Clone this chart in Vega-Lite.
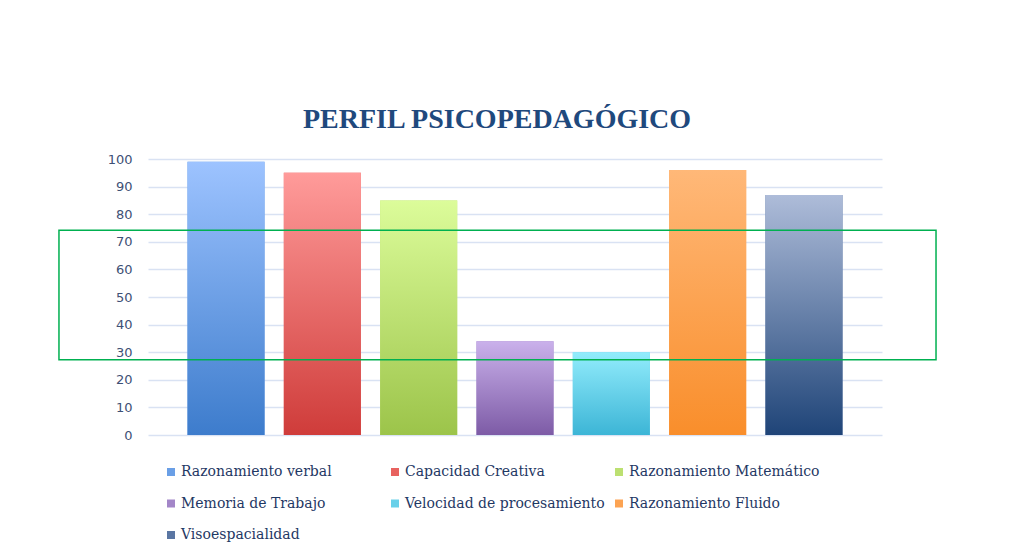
{
  "$schema": "https://vega.github.io/schema/vega-lite/v6.json",
  "width": 734,
  "height": 276,
  "autosize": {"type": "none"},
  "padding": {"left": 148, "top": 159, "right": 128, "bottom": 118},
  "background": "white",
  "config": {"view": {"stroke": null}},
  "title": {
    "text": "PERFIL PSICOPEDAGÓGICO",
    "font": "Liberation Serif",
    "fontSize": 28,
    "fontWeight": "bold",
    "color": "#1F497D",
    "offset": 19,
    "dx": -18,
    "anchor": "middle"
  },
  "datasets": {
    "scores": [
      {"area": "Razonamiento verbal", "valor": 99},
      {"area": "Capacidad Creativa", "valor": 95},
      {"area": "Razonamiento Matemático", "valor": 85},
      {"area": "Memoria de Trabajo", "valor": 34},
      {"area": "Velocidad de procesamiento", "valor": 30},
      {"area": "Razonamiento Fluido", "valor": 96},
      {"area": "Visoespacialidad", "valor": 87}
    ],
    "highlight": [
      {"x0": -0.1213, "x1": 1.0736, "y0": 74.2, "y1": 27.3}
    ]
  },
  "layer": [
    {
      "data": {"name": "scores"},
      "encoding": {
        "x": {
          "field": "area",
          "type": "nominal",
          "sort": null,
          "scale": {
            "domain": ["Razonamiento verbal", "Capacidad Creativa", "Razonamiento Matemático", "Memoria de Trabajo", "Velocidad de procesamiento", "Razonamiento Fluido", "Visoespacialidad"],
            "paddingInner": 0.2,
            "paddingOuter": 0.41
          },
          "axis": null
        },
        "y": {
          "field": "valor",
          "type": "quantitative",
          "scale": {"domain": [0, 100]},
          "axis": {
            "title": null,
            "values": [0, 10, 20, 30, 40, 50, 60, 70, 80, 90, 100],
            "labelOverlap": false,
            "grid": true,
            "gridColor": "#D9E2F3",
            "gridWidth": 1.5,
            "domain": false,
            "ticks": false,
            "labelPadding": 16,
            "labelFont": "DejaVu Sans",
            "labelFontSize": 13,
            "labelColor": "#3E5075"
          }
        }
      },
      "layer": [
        {
          "mark": {"type": "bar"},
          "encoding": {
            "color": {
              "field": "area",
              "type": "nominal",
              "sort": null,
              "scale": {
                "domain": ["Razonamiento verbal", "Capacidad Creativa", "Razonamiento Matemático", "Memoria de Trabajo", "Velocidad de procesamiento", "Razonamiento Fluido", "Visoespacialidad"],
                "range": ["#6A9FE6", "#E8625F", "#BCE071", "#A386C8", "#68D0E9", "#FCA352", "#5A76A3"]
              },
              "legend": {
                "title": null,
                "orient": "none",
                "direction": "horizontal",
                "legendX": 16,
                "legendY": 306,
                "columns": 3,
                "gridAlign": "all",
                "columnPadding": 7,
                "rowPadding": 17.5,
                "symbolType": "square",
                "symbolSize": 64,
                "symbolStrokeWidth": 0,
                "labelFont": "DejaVu Serif",
                "labelFontSize": 14,
                "labelColor": "#1F3864",
                "labelOffset": 3,
                "labelLimit": 400
              }
            }
          }
        },
        {
          "transform": [{"filter": "datum.area === 'Razonamiento verbal'"}],
          "mark": {"type": "bar", "fill": {"gradient": "linear", "x1": 0, "y1": 0, "x2": 0, "y2": 1, "stops": [{"offset": 0, "color": "#9DC3FF"}, {"offset": 1, "color": "#3D7CCC"}]}}
        },
        {
          "transform": [{"filter": "datum.area === 'Capacidad Creativa'"}],
          "mark": {"type": "bar", "fill": {"gradient": "linear", "x1": 0, "y1": 0, "x2": 0, "y2": 1, "stops": [{"offset": 0, "color": "#FF9B9A"}, {"offset": 1, "color": "#CF3C3A"}]}}
        },
        {
          "transform": [{"filter": "datum.area === 'Razonamiento Matemático'"}],
          "mark": {"type": "bar", "fill": {"gradient": "linear", "x1": 0, "y1": 0, "x2": 0, "y2": 1, "stops": [{"offset": 0, "color": "#DCFC9A"}, {"offset": 1, "color": "#9CC44A"}]}}
        },
        {
          "transform": [{"filter": "datum.area === 'Memoria de Trabajo'"}],
          "mark": {"type": "bar", "fill": {"gradient": "linear", "x1": 0, "y1": 0, "x2": 0, "y2": 1, "stops": [{"offset": 0, "color": "#CAB1EB"}, {"offset": 1, "color": "#7D5BA6"}]}}
        },
        {
          "transform": [{"filter": "datum.area === 'Velocidad de procesamiento'"}],
          "mark": {"type": "bar", "fill": {"gradient": "linear", "x1": 0, "y1": 0, "x2": 0, "y2": 1, "stops": [{"offset": 0, "color": "#92ECFC"}, {"offset": 1, "color": "#3CB5D6"}]}}
        },
        {
          "transform": [{"filter": "datum.area === 'Razonamiento Fluido'"}],
          "mark": {"type": "bar", "fill": {"gradient": "linear", "x1": 0, "y1": 0, "x2": 0, "y2": 1, "stops": [{"offset": 0, "color": "#FFB878"}, {"offset": 1, "color": "#F98E2B"}]}}
        },
        {
          "transform": [{"filter": "datum.area === 'Visoespacialidad'"}],
          "mark": {"type": "bar", "fill": {"gradient": "linear", "x1": 0, "y1": 0, "x2": 0, "y2": 1, "stops": [{"offset": 0, "color": "#AEBCD9"}, {"offset": 1, "color": "#1F4478"}]}}
        }
      ]
    },
    {
      "data": {"name": "highlight"},
      "mark": {"type": "rect", "filled": false, "color": "#00B050", "strokeWidth": 1.5},
      "encoding": {
        "x": {"field": "x0", "type": "quantitative", "scale": {"domain": [0, 1]}, "axis": null},
        "x2": {"field": "x1"},
        "y": {
          "field": "y0",
          "type": "quantitative",
          "axis": {
            "title": null,
            "values": [0, 10, 20, 30, 40, 50, 60, 70, 80, 90, 100],
            "labelOverlap": false,
            "grid": true,
            "gridColor": "#D9E2F3",
            "gridWidth": 1.5,
            "domain": false,
            "ticks": false,
            "labelPadding": 16,
            "labelFont": "DejaVu Sans",
            "labelFontSize": 13,
            "labelColor": "#3E5075"
          }
        },
        "y2": {"field": "y1"}
      }
    }
  ],
  "resolve": {"scale": {"x": "independent"}}
}
